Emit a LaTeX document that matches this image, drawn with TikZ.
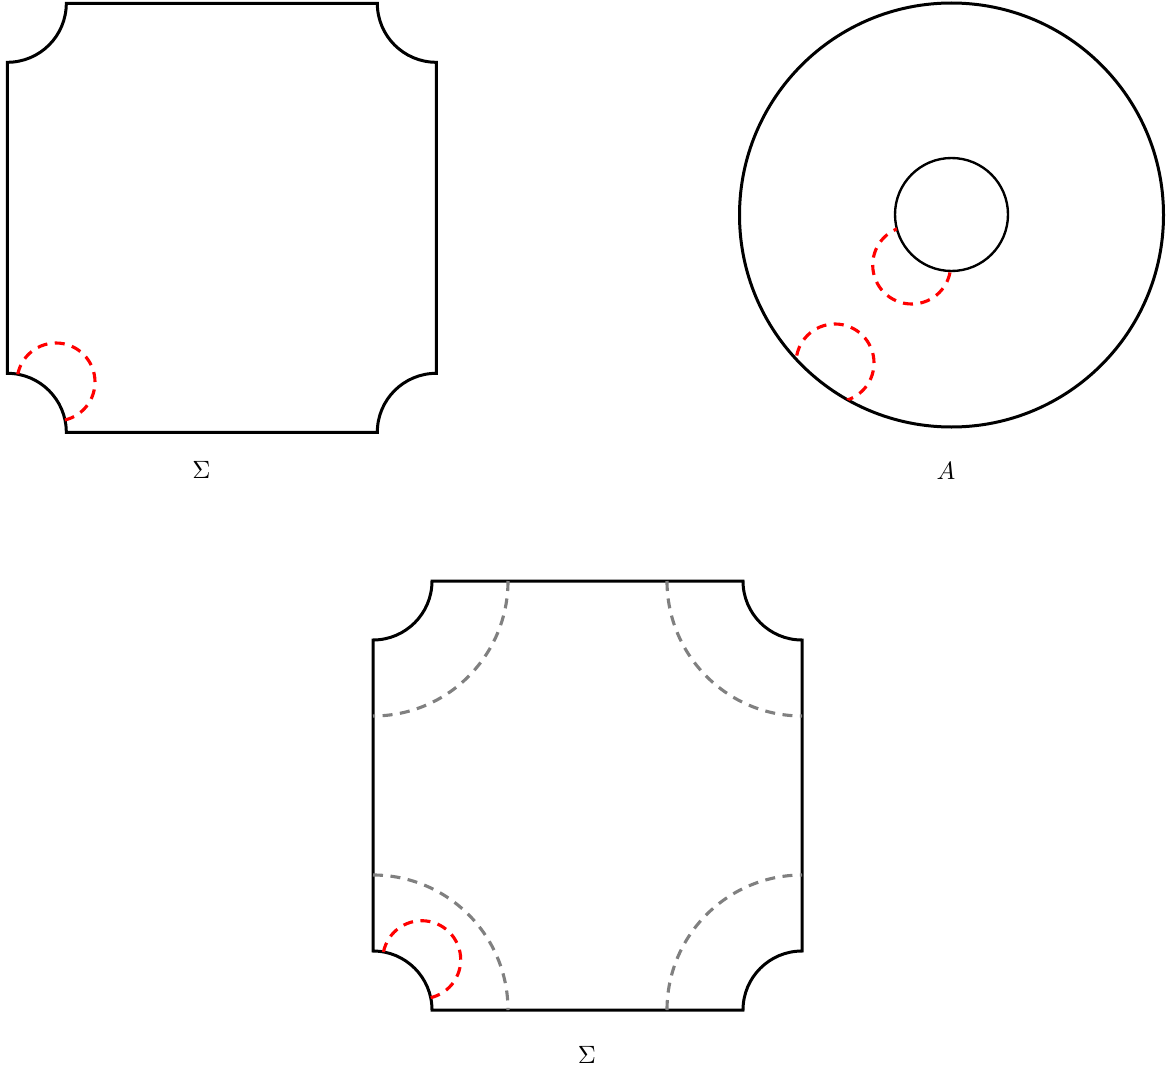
\documentclass[tikz,border=0pt]{standalone}
\begin{document}
\begin{tikzpicture}[x=0.4pt,y=0.4pt,
  bd/.style={black,line width=1.2pt,line join=miter},
  bdthin/.style={black,line width=0.95pt},
  redd/.style={red,dash pattern=on 4pt off 3pt,line width=1.25pt},
  grayd/.style={gray,dash pattern=on 4pt off 3pt,line width=1.25pt},
  lbl/.style={inner sep=0pt}]
\useasboundingbox (0,0) rectangle (1166,-1072);
\def\pathA{(66.3,-3.3) -- (377.3,-3.3) arc[start angle=180,end angle=270,radius=59]
  -- (436.3,-373.3) arc[start angle=90,end angle=180,radius=59]
  -- (66.3,-432.3) arc[start angle=0,end angle=90,radius=59]
  -- (7.3,-62.3) arc[start angle=270,end angle=360,radius=59] -- cycle}
\def\pathB{(432,-581) -- (743,-581) arc[start angle=180,end angle=270,radius=59]
  -- (802,-951) arc[start angle=90,end angle=180,radius=59]
  -- (432,-1010) arc[start angle=0,end angle=90,radius=59]
  -- (373,-640) arc[start angle=270,end angle=360,radius=59] -- cycle}
% top-left surface
\draw[bd] \pathA;
\begin{scope}
  \clip \pathA;
  \draw[redd] (56,-382) circle[radius=39];
\end{scope}
\node[lbl] (s1) at (201.5,-470) {$\Sigma$};
% annulus
\draw[bd] (951.5,-215) circle[radius=212];
\draw[bdthin] (951.5,-214.5) circle[radius=56.5];
\begin{scope}[even odd rule]
  \clip (951.5,-215) circle[radius=212] (951.5,-214.5) circle[radius=56.5];
  \draw[redd] (911.7,-265) circle[radius=39];
  \draw[redd] (835,-363) circle[radius=39];
\end{scope}
\node[lbl] (a) at (946,-471) {$A$};
% bottom surface
\draw[bd] \pathB;
\draw[grayd] (508,-581) arc[start angle=0,end angle=-90,radius=135];
\draw[grayd] (667,-581) arc[start angle=180,end angle=270,radius=135];
\draw[grayd] (373,-875) arc[start angle=90,end angle=0,radius=135];
\draw[grayd] (667,-1010) arc[start angle=180,end angle=90,radius=135];
\begin{scope}
  \clip \pathB;
  \draw[redd] (421.7,-959.7) circle[radius=39];
\end{scope}
\node[lbl] (s2) at (587,-1055) {$\Sigma$};
\end{tikzpicture}
\end{document}
